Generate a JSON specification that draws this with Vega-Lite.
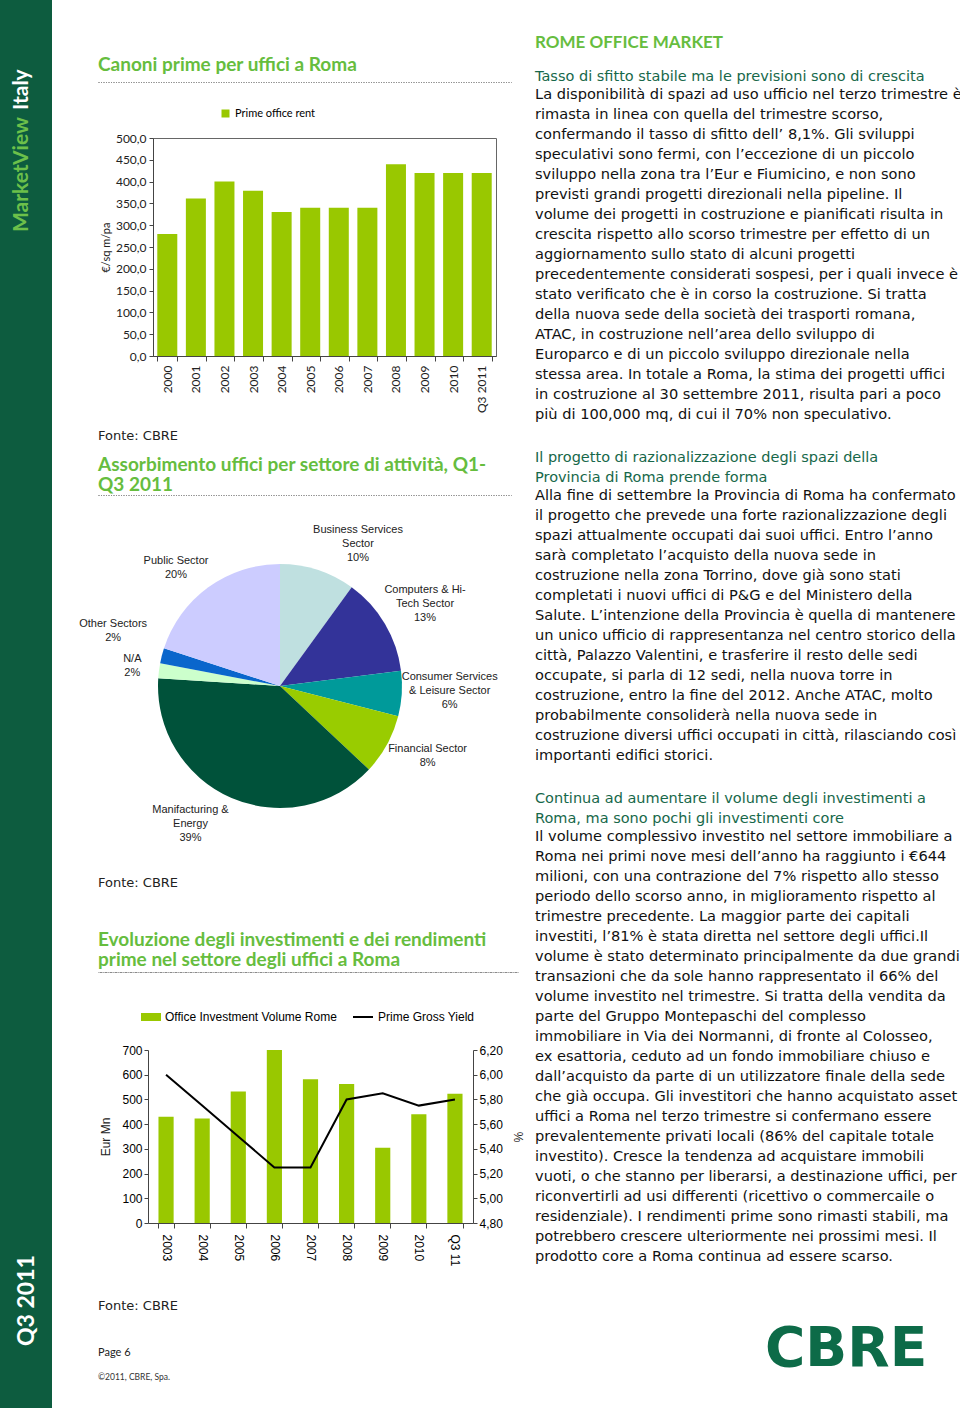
{
  "$schema": "https://vega.github.io/schema/vega-lite/v6.json",
  "padding": 0,
  "background": "white",
  "spacing": 0,
  "resolve": {"scale": {"color": "independent", "fill": "independent", "stroke": "independent"}, "legend": {"color": "independent", "fill": "independent", "stroke": "independent"}},
  "config": {
    "view": {"stroke": null},
    "locale": {"number": {"decimal": ",", "thousands": ".", "grouping": [3], "currency": ["€", ""]}},
    "axis": {"grid": false, "domainColor": "#444", "tickColor": "#444", "labelColor": "#222", "titleColor": "#222", "titleFontWeight": "normal", "tickSize": 4},
    "title": {"anchor": "start", "frame": "group", "font": "DejaVu Sans", "color": "#222"},
    "concat": {"spacing": 0},
    "legend": {"title": null, "labelLimit": 300}
  },
  "hconcat": [
    {
      "width": 52, "height": 1408,
      "view": {"fill": "#0d5c3f", "stroke": null},
      "layer": [
        {"data": {"values": [{"label": "MarketView"}]}, "mark": {"type": "text", "angle": 270, "align": "left", "baseline": "middle", "font": "Lato", "fontSize": 21, "fontWeight": "bold", "color": "#6cc04a"}, "encoding": {"text": {"field": "label"}, "x": {"value": 22}, "y": {"value": 232}}},
        {"data": {"values": [{"label": "Italy"}]}, "mark": {"type": "text", "angle": 270, "align": "left", "baseline": "middle", "font": "Lato", "fontSize": 21, "fontWeight": "bold", "color": "#ffffff"}, "encoding": {"text": {"field": "label"}, "x": {"value": 22}, "y": {"value": 110}}},
        {"data": {"values": [{"label": "Q3 2011"}]}, "mark": {"type": "text", "angle": 270, "align": "left", "baseline": "middle", "font": "Lato", "fontSize": 23, "fontWeight": "bold", "color": "#ffffff"}, "encoding": {"text": {"field": "label"}, "x": {"value": 27}, "y": {"value": 1346}}}
      ]
    },
    {"width": 26, "height": 1, "data": {"values": []}, "mark": "point"},
    {
      "spacing": 0,
      "resolve": {"scale": {"color": "independent", "fill": "independent", "stroke": "independent"}, "legend": {"color": "independent", "fill": "independent", "stroke": "independent"}},
      "vconcat": [
        {"width": 457, "height": 55, "data": {"values": []}, "mark": "point"},
        {
          "spacing": 0,
          "resolve": {"scale": {"color": "independent", "fill": "independent", "stroke": "independent"}, "legend": {"color": "independent", "fill": "independent", "stroke": "independent"}},
          "hconcat": [
            {"width": 19, "height": 1, "data": {"values": []}, "mark": "point"},
            {
              "spacing": 0,
              "resolve": {"scale": {"color": "independent", "fill": "independent", "stroke": "independent"}, "legend": {"color": "independent", "fill": "independent", "stroke": "independent"}},
              "vconcat": [
                {"width": 413, "height": 0.01, "view": {"stroke": "#8a8a8a", "strokeDash": [1, 1.5], "strokeWidth": 1}, "data": {"values": []}, "mark": "point",
                 "title": {"text": "Canoni prime per uffici a Roma", "font": "Lato", "fontSize": 19, "fontWeight": "bold", "color": "#66bd3e", "offset": 7}},
                {"width": 1, "height": 25, "data": {"values": []}, "mark": "point"},
                {
                  "spacing": 0,
                  "hconcat": [
                    {"width": 0.01, "height": 1, "data": {"values": []}, "mark": "point"},
                    {
                      "width": 343, "height": 218,
                      "view": {"stroke": "#666", "strokeWidth": 1},
                      "data": {"values": [
                        {"period": "2000", "rent": 280},
                        {"period": "2001", "rent": 361},
                        {"period": "2002", "rent": 400},
                        {"period": "2003", "rent": 379},
                        {"period": "2004", "rent": 330},
                        {"period": "2005", "rent": 340},
                        {"period": "2006", "rent": 340},
                        {"period": "2007", "rent": 340},
                        {"period": "2008", "rent": 440},
                        {"period": "2009", "rent": 420},
                        {"period": "2010", "rent": 420},
                        {"period": "Q3 2011", "rent": 420}
                      ]},
                      "mark": {"type": "bar"},
                      "encoding": {
                        "x": {"field": "period", "type": "nominal", "sort": null, "scale": {"paddingInner": 0.3, "paddingOuter": 0.15},
                              "axis": {"title": null, "labelAngle": -90, "labelAlign": "right", "labelBaseline": "middle", "labelPadding": 4, "labelFont": "Lato", "labelFontSize": 12, "tickBand": "extent", "tickSize": 5}},
                        "y": {"field": "rent", "type": "quantitative", "scale": {"domain": [0, 500]},
                              "axis": {"values": [0, 50, 100, 150, 200, 250, 300, 350, 400, 450, 500], "format": ".1f", "title": "€/sq m/pa", "titleFont": "Lato", "titleFontSize": 11, "titlePadding": 4, "labelFont": "Lato", "labelFontSize": 12, "labelPadding": 3}},
                        "color": {"datum": "Prime office rent", "scale": {"range": ["#99c800"]},
                                  "legend": {"orient": "none", "legendX": 122, "legendY": -30, "symbolType": "square", "symbolSize": 64, "labelFont": "Lato", "labelFontSize": 11}}
                      }
                    }
                  ]
                },
                {"width": 1, "height": 17, "data": {"values": []}, "mark": "point"},
                {"width": 1, "height": 0.01, "data": {"values": []}, "mark": "point",
                 "title": {"text": "Fonte: CBRE", "fontSize": 13, "fontWeight": "normal", "color": "#222", "offset": 0}},
                {"width": 1, "height": 11, "data": {"values": []}, "mark": "point"},
                {"width": 413, "height": 0.01, "view": {"stroke": "#8a8a8a", "strokeDash": [1, 1.5], "strokeWidth": 1}, "data": {"values": []}, "mark": "point",
                 "title": {"text": ["Assorbimento uffici per settore di attività, Q1-", "Q3 2011"], "font": "Lato", "fontSize": 19, "fontWeight": "bold", "color": "#66bd3e", "lineHeight": 20, "offset": 0}}
              ]
            }
          ]
        },
        {
          "width": 404, "height": 366,
          "data": {"values": [
            {"k": 1, "sector": "Business Services Sector", "label": "Business Services\nSector\n10%", "pct": 10},
            {"k": 2, "sector": "Computers & Hi-Tech Sector", "label": "Computers & Hi-\nTech Sector\n13%", "pct": 13},
            {"k": 3, "sector": "Consumer Services & Leisure Sector", "label": "Consumer Services\n& Leisure Sector\n6%", "pct": 6},
            {"k": 4, "sector": "Financial Sector", "label": "Financial Sector\n8%", "pct": 8},
            {"k": 5, "sector": "Manifacturing & Energy", "label": "Manifacturing &\nEnergy\n39%", "pct": 39},
            {"k": 6, "sector": "N/A", "label": "N/A\n2%", "pct": 2},
            {"k": 7, "sector": "Other Sectors", "label": "Other Sectors\n2%", "pct": 2},
            {"k": 8, "sector": "Public Sector", "label": "Public Sector\n20%", "pct": 20}
          ]},
          "encoding": {
            "theta": {"field": "pct", "type": "quantitative", "stack": true},
            "order": {"field": "k", "type": "quantitative"}
          },
          "layer": [
            {"mark": {"type": "arc", "outerRadius": 122},
             "encoding": {"color": {"field": "sector", "type": "nominal", "sort": null,
               "scale": {"domain": ["Business Services Sector", "Computers & Hi-Tech Sector", "Consumer Services & Leisure Sector", "Financial Sector", "Manifacturing & Energy", "N/A", "Other Sectors", "Public Sector"],
                         "range": ["#bfe0e0", "#333399", "#009a9a", "#99cc00", "#00523a", "#ccffcc", "#0a66cc", "#ccccff"]},
               "legend": null}}},
            {"mark": {"type": "text", "radius": 165, "lineBreak": "\n", "font": "Liberation Sans", "fontSize": 11, "lineHeight": 14, "color": "#222", "dx": 27, "dy": 1},
             "encoding": {"text": {"condition": {"test": "datum.k === 1", "field": "label"}, "value": ""}}},
            {"mark": {"type": "text", "radius": 165, "lineBreak": "\n", "font": "Liberation Sans", "fontSize": 11, "lineHeight": 14, "color": "#222", "dx": 3, "dy": -12},
             "encoding": {"text": {"condition": {"test": "datum.k === 2", "field": "label"}, "value": ""}}},
            {"mark": {"type": "text", "radius": 165, "lineBreak": "\n", "font": "Liberation Sans", "fontSize": 11, "lineHeight": 14, "color": "#222", "dx": 5, "dy": -19},
             "encoding": {"text": {"condition": {"test": "datum.k === 3", "field": "label"}, "value": ""}}},
            {"mark": {"type": "text", "radius": 165, "lineBreak": "\n", "font": "Liberation Sans", "fontSize": 11, "lineHeight": 14, "color": "#222", "dx": 3, "dy": -16},
             "encoding": {"text": {"condition": {"test": "datum.k === 4", "field": "label"}, "value": ""}}},
            {"mark": {"type": "text", "radius": 165, "lineBreak": "\n", "font": "Liberation Sans", "fontSize": 11, "lineHeight": 14, "color": "#222", "dx": -24, "dy": -27},
             "encoding": {"text": {"condition": {"test": "datum.k === 5", "field": "label"}, "value": ""}}},
            {"mark": {"type": "text", "radius": 165, "lineBreak": "\n", "font": "Liberation Sans", "fontSize": 11, "lineHeight": 14, "color": "#222", "dx": 16, "dy": -6},
             "encoding": {"text": {"condition": {"test": "datum.k === 6", "field": "label"}, "value": ""}}},
            {"mark": {"type": "text", "radius": 165, "lineBreak": "\n", "font": "Liberation Sans", "fontSize": 11, "lineHeight": 14, "color": "#222", "dx": -7, "dy": -21},
             "encoding": {"text": {"condition": {"test": "datum.k === 7", "field": "label"}, "value": ""}}},
            {"mark": {"type": "text", "radius": 165, "lineBreak": "\n", "font": "Liberation Sans", "fontSize": 11, "lineHeight": 14, "color": "#222", "dx": -7, "dy": 8},
             "encoding": {"text": {"condition": {"test": "datum.k === 8", "field": "label"}, "value": ""}}}
          ]
        },
        {
          "spacing": 0,
          "resolve": {"scale": {"color": "independent", "fill": "independent", "stroke": "independent"}, "legend": {"color": "independent", "fill": "independent", "stroke": "independent"}},
          "hconcat": [
            {"width": 19, "height": 1, "data": {"values": []}, "mark": "point"},
            {
              "spacing": 0,
              "resolve": {"scale": {"color": "independent", "fill": "independent", "stroke": "independent"}, "legend": {"color": "independent", "fill": "independent", "stroke": "independent"}},
              "vconcat": [
                {"width": 1, "height": 8, "data": {"values": []}, "mark": "point"},
                {"width": 1, "height": 0.01, "data": {"values": []}, "mark": "point",
                 "title": {"text": "Fonte: CBRE", "fontSize": 13, "fontWeight": "normal", "color": "#222", "offset": 0}},
                {"width": 1, "height": 39, "data": {"values": []}, "mark": "point"},
                {"width": 420, "height": 0.01, "view": {"stroke": "#8a8a8a", "strokeDash": [1, 1.5], "strokeWidth": 1}, "data": {"values": []}, "mark": "point",
                 "title": {"text": ["Evoluzione degli investimenti e dei rendimenti", "prime nel settore degli uffici a Roma"], "font": "Lato", "fontSize": 19, "fontWeight": "bold", "color": "#66bd3e", "lineHeight": 20, "offset": 2}},
                {"width": 1, "height": 33, "data": {"values": []}, "mark": "point"},
                {
                  "spacing": 0,
                  "resolve": {"scale": {"color": "independent", "fill": "independent", "stroke": "independent"}, "legend": {"color": "independent", "fill": "independent", "stroke": "independent"}},
                  "hconcat": [
                    {"width": 0.01, "height": 1, "data": {"values": []}, "mark": "point"},
                    {
                      "width": 325, "height": 173,
                      "data": {"values": [
                        {"period": "2003", "volume": 430, "yield": 6.00},
                        {"period": "2004", "volume": 423, "yield": 5.75},
                        {"period": "2005", "volume": 532, "yield": 5.50},
                        {"period": "2006", "volume": 700, "yield": 5.25},
                        {"period": "2007", "volume": 582, "yield": 5.25},
                        {"period": "2008", "volume": 562, "yield": 5.80},
                        {"period": "2009", "volume": 304, "yield": 5.85},
                        {"period": "2010", "volume": 440, "yield": 5.75},
                        {"period": "Q3 11", "volume": 523, "yield": 5.80}
                      ]},
                      "encoding": {
                        "x": {"field": "period", "type": "nominal", "sort": null, "scale": {"paddingInner": 0.58, "paddingOuter": 0.29},
                              "axis": {"title": null, "labelAngle": 90, "labelAlign": "left", "labelBaseline": "middle", "labelPadding": 6, "labelFont": "Liberation Sans", "labelFontSize": 12, "labelColor": "#000", "tickBand": "extent", "tickSize": 5}}
                      },
                      "layer": [
                        {"mark": {"type": "bar"},
                         "encoding": {
                           "y": {"field": "volume", "type": "quantitative", "scale": {"domain": [0, 700]},
                                 "axis": {"values": [0, 100, 200, 300, 400, 500, 600, 700], "title": "Eur Mn", "titleFont": "Liberation Sans", "titleFontSize": 12, "titlePadding": 9, "labelFont": "Liberation Sans", "labelFontSize": 12, "labelColor": "#000"}},
                           "fill": {"datum": "Office Investment Volume Rome", "scale": {"range": ["#99c800"]},
                                    "legend": {"orient": "none", "legendX": -8, "legendY": -44, "symbolType": "M-1,-0.4H1V0.4H-1Z", "symbolSize": 400, "labelFont": "Liberation Sans", "labelFontSize": 12, "labelColor": "#000", "labelOffset": 3}}
                         }},
                        {"mark": {"type": "line", "strokeWidth": 2},
                         "encoding": {
                           "y": {"field": "yield", "type": "quantitative", "scale": {"domain": [4.8, 6.2], "zero": false},
                                 "axis": {"orient": "right", "values": [4.8, 5, 5.2, 5.4, 5.6, 5.8, 6, 6.2], "format": ".2f", "title": "%", "titleFont": "Liberation Sans", "titleFontSize": 12, "titlePadding": 8, "labelFont": "Liberation Sans", "labelFontSize": 12, "labelColor": "#000"}},
                           "stroke": {"datum": "Prime Gross Yield", "scale": {"range": ["#000000"]},
                                      "legend": {"orient": "none", "legendX": 204, "legendY": -44, "symbolSize": 400, "symbolStrokeWidth": 2, "labelFont": "Liberation Sans", "labelFontSize": 12, "labelColor": "#000", "labelOffset": 4}}
                         }}
                      ],
                      "resolve": {"scale": {"y": "independent"}}
                    }
                  ]
                },
                {"width": 1, "height": 34, "data": {"values": []}, "mark": "point"},
                {"width": 1, "height": 0.01, "data": {"values": []}, "mark": "point",
                 "title": {"text": "Fonte: CBRE", "fontSize": 13, "fontWeight": "normal", "color": "#222", "offset": 0}},
                {"width": 1, "height": 33, "data": {"values": []}, "mark": "point"},
                {"width": 1, "height": 0.01, "data": {"values": []}, "mark": "point",
                 "title": {"text": "Page 6", "font": "Lato", "fontSize": 11, "fontWeight": "normal", "color": "#222", "offset": 0}},
                {"width": 1, "height": 13, "data": {"values": []}, "mark": "point"},
                {"width": 1, "height": 0.01, "data": {"values": []}, "mark": "point",
                 "title": {"text": "©2011, CBRE, Spa.", "font": "Lato", "fontSize": 8.5, "fontWeight": "normal", "color": "#333", "offset": 0}}
              ]
            }
          ]
        }
      ]
    },
    {
      "spacing": 0, "bounds": "flush",
      "vconcat": [
        {"width": 425, "height": 52, "data": {"values": []}, "mark": "point"},
        {"width": 425, "height": 373, "data": {"values": []}, "mark": "point",
         "title": {"text": "ROME OFFICE MARKET", "font": "Lato", "fontSize": 17, "fontWeight": "bold", "color": "#66bd3e", "offset": 0}},
        {"width": 425, "height": 341, "data": {"values": []}, "mark": "point",
         "title": {"text": ["Tasso di sfitto stabile ma le previsioni sono di crescita"],
                   "subtitle": [
                     "La disponibilità di spazi ad uso ufficio nel terzo trimestre è",
                     "rimasta in linea con quella del trimestre scorso,",
                     "confermando il tasso di sfitto dell’ 8,1%. Gli sviluppi",
                     "speculativi sono fermi, con l’eccezione di un piccolo",
                     "sviluppo nella zona tra l’Eur e Fiumicino, e non sono",
                     "previsti grandi progetti direzionali nella pipeline. Il",
                     "volume dei progetti in costruzione e pianificati risulta in",
                     "crescita rispetto allo scorso trimestre per effetto di un",
                     "aggiornamento sullo stato di alcuni progetti",
                     "precedentemente considerati sospesi, per i quali invece è",
                     "stato verificato che è in corso la costruzione. Si tratta",
                     "della nuova sede della società dei trasporti romana,",
                     "ATAC, in costruzione nell’area dello sviluppo di",
                     "Europarco e di un piccolo sviluppo direzionale nella",
                     "stessa area. In totale a Roma, la stima dei progetti uffici",
                     "in costruzione al 30 settembre 2011, risulta pari a poco",
                     "più di 100,000 mq, di cui il 70% non speculativo."
                   ],
                   "font": "DejaVu Sans", "fontSize": 14.5, "fontWeight": "normal", "color": "#17684a", "lineHeight": 20,
                   "subtitleFont": "DejaVu Sans", "subtitleFontSize": 14.6, "subtitleColor": "#111", "subtitleLineHeight": 20, "subtitlePadding": 3, "offset": 2}},
        {"width": 425, "height": 501, "data": {"values": []}, "mark": "point",
         "title": {"text": ["Il progetto di razionalizzazione  degli spazi della", "Provincia di Roma  prende forma"],
                   "subtitle": [
                     "Alla fine di settembre la Provincia di Roma ha confermato",
                     "il progetto che prevede una forte razionalizzazione degli",
                     "spazi attualmente occupati dai suoi uffici. Entro l’anno",
                     "sarà completato l’acquisto della nuova sede in",
                     "costruzione nella zona Torrino, dove già sono stati",
                     "completati i nuovi uffici di P&G e del Ministero della",
                     "Salute. L’intenzione della Provincia è quella di mantenere",
                     "un unico ufficio di rappresentanza nel centro storico della",
                     "città, Palazzo Valentini, e trasferire il resto delle sedi",
                     "occupate, si parla di 12 sedi, nella nuova torre in",
                     "costruzione, entro la fine del 2012. Anche ATAC, molto",
                     "probabilmente consoliderà nella nuova sede in",
                     "costruzione diversi uffici occupati in città, rilasciando così",
                     "importanti edifici storici."
                   ],
                   "font": "DejaVu Sans", "fontSize": 14.5, "fontWeight": "normal", "color": "#17684a", "lineHeight": 20,
                   "subtitleFont": "DejaVu Sans", "subtitleFontSize": 14.6, "subtitleColor": "#111", "subtitleLineHeight": 20, "subtitlePadding": 3, "offset": 2}},
        {"width": 425, "height": 111, "data": {"values": []}, "mark": "point",
         "title": {"text": ["Continua ad aumentare il volume degli investimenti a", "Roma, ma sono pochi gli  investimenti core"],
                   "subtitle": [
                     "Il volume complessivo investito nel settore immobiliare a",
                     "Roma nei primi nove mesi dell’anno ha raggiunto i €644",
                     "milioni, con una contrazione del 7% rispetto allo stesso",
                     "periodo dello scorso anno, in miglioramento rispetto al",
                     "trimestre precedente. La maggior parte dei capitali",
                     "investiti, l’81%  è stata diretta nel settore degli uffici.Il",
                     "volume è stato determinato principalmente da due grandi",
                     "transazioni che da sole hanno rappresentato il 66% del",
                     "volume investito nel trimestre. Si tratta della vendita da",
                     "parte del Gruppo Montepaschi del complesso",
                     "immobiliare in Via dei Normanni, di fronte al Colosseo,",
                     "ex esattoria, ceduto ad un fondo immobiliare chiuso e",
                     "dall’acquisto da parte di un utilizzatore finale della sede",
                     "che già occupa. Gli investitori che hanno acquistato asset",
                     "uffici a Roma nel terzo trimestre si confermano essere",
                     "prevalentemente privati locali (86% del capitale totale",
                     "investito). Cresce la tendenza ad acquistare immobili",
                     "vuoti, o che stanno per liberarsi, a destinazione uffici, per",
                     "riconvertirli ad usi differenti (ricettivo o commercaile o",
                     "residenziale). I rendimenti prime sono rimasti stabili, ma",
                     "potrebbero crescere ulteriormente nei prossimi mesi. Il",
                     "prodotto core a Roma continua ad essere scarso."
                   ],
                   "font": "DejaVu Sans", "fontSize": 14.5, "fontWeight": "normal", "color": "#17684a", "lineHeight": 20,
                   "subtitleFont": "DejaVu Sans", "subtitleFontSize": 14.6, "subtitleColor": "#111", "subtitleLineHeight": 20, "subtitlePadding": 3, "offset": 2}},
        {"width": 425, "height": 30, "data": {"values": []}, "mark": "point",
         "title": {"text": "CBRE", "font": "DejaVu Sans", "fontSize": 55, "fontWeight": "bold", "color": "#0d6b48", "dx": 230, "offset": 0}}
      ]
    }
  ]
}
